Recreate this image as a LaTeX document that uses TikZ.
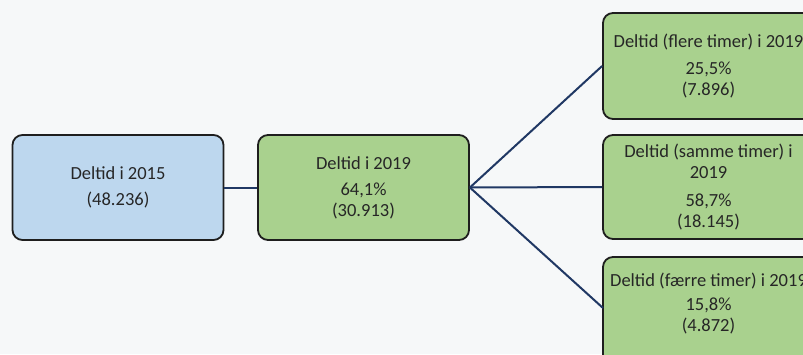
\documentclass[tikz,border=0pt]{standalone}
\usepackage{fontspec}
\setmainfont{Carlito}
\definecolor{bgc}{HTML}{F6F8F9}
\definecolor{bluefill}{HTML}{BDD7EE}
\definecolor{greenfill}{HTML}{A9D18E}
\definecolor{edgec}{HTML}{1E1E1E}
\definecolor{linkc}{HTML}{203864}
\definecolor{txtc}{HTML}{262626}
\begin{document}
\begin{tikzpicture}[x=1pt,y=-1pt,
  boxbase/.style={draw=edgec, line width=1.8pt, rounded corners=10pt, inner sep=0pt,
    minimum width=211pt, text=txtc, align=center,
    font=\fontsize{18.5}{21}\selectfont},
  bluebox/.style={boxbase, fill=bluefill},
  greenbox/.style={boxbase, fill=greenfill},
  plaintxt/.style={text=txtc, align=center, inner sep=0pt, font=\fontsize{18.5}{21}\selectfont},
  link/.style={draw=linkc, line width=2pt}]
\fill[bgc] (0,0) rectangle (803,354);
\useasboundingbox (0,0) rectangle (803,354);
\clip (0,0) rectangle (803,354);
\node[bluebox, minimum height=105pt] (b1) at (118,187.5) {Deltid i 2015\\[5pt](48.236)};
\node[greenbox, minimum height=105pt] (b2) at (363.5,187.5) {Deltid i 2019\\[5pt]64,1\%\\(30.913)};
\node[greenbox, minimum height=106pt] (b3) at (708.5,66) {Deltid (flere timer) i 2019\\[6pt]25,5\%\\(7.896)};
\node[greenbox, minimum height=104pt] (b4) at (708.5,187) {Deltid (samme timer) i\\2019\\[7pt]58,7\%\\(18.145)};
\node[greenbox, minimum height=112pt] (b5) at (708.5,313) {};
\node[plaintxt] (t5) at (708.5,304) {Deltid (færre timer) i 2019\\[3pt]15,8\%\\(4.872)};
\coordinate (e5) at (603,308);
\draw[link] (b1.east) -- (b2.west);
\draw[link] (b2.east) -- (b3.west);
\draw[link] (b2.east) -- (b4.west);
\draw[link] (b2.east) -- (e5);
\end{tikzpicture}
\end{document}
